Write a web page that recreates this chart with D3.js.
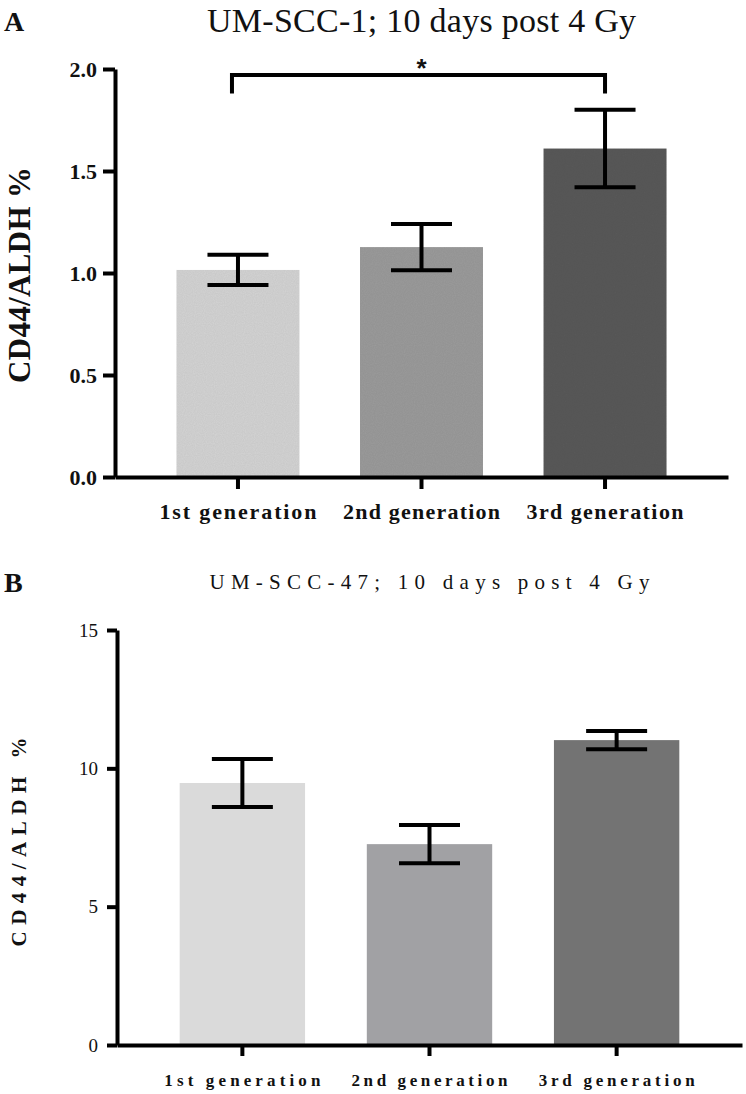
<!DOCTYPE html>
<html>
<head>
<meta charset="utf-8">
<script src="https://cdn.jsdelivr.net/npm/d3@7"></script>
<style>
  body { margin: 0; background: #fff; }
  svg { display: block; }
  text { font-family: "Liberation Serif", "DejaVu Serif", serif; fill: #111; }
</style>
</head>
<body>
<svg id="chart" width="746" height="1094"></svg>
<script>
// data
const categories = ["1st generation", "2nd generation", "3rd generation"];

const meansA = [1.015, 1.127, 1.61];
const errorsA = [0.074, 0.113, 0.19];
const ticksA = [0.0, 0.5, 1.0, 1.5, 2.0];
const coloursA = ["#d4d4d4", "#9b9b9b", "#5a5a5a"];

const meansB = [9.47, 7.26, 11.02];
const errorsB = [0.87, 0.69, 0.33];
const ticksB = [0, 5, 10, 15];
const coloursB = ["#dadada", "#a1a1a4", "#737373"];

// significance bracket in panel A: 1st vs 3rd generation
const bracketA = { from: 0, to: 2, level: 1.97, leg: 1.88, label: "*" };

const svg = d3.select("#chart");

function drawPanel(opts) {
    const g = svg.append("g");

    const x = d3.scaleBand()
        .domain(categories)
        .range(opts.xRange)
        .paddingInner(0.33)
        .paddingOuter(0.335);

    const y = d3.scaleLinear()
        .domain([0, d3.max(opts.ticks)])
        .range(opts.yRange);

    // bars
    g.selectAll(".bar")
        .data(opts.means)
        .enter()
        .append("rect")
        .attr("class", "bar")
        .attr("x", (d, i) => x(categories[i]))
        .attr("y", d => y(d))
        .attr("width", x.bandwidth())
        .attr("height", d => y(0) - y(d))
        .attr("fill", (d, i) => opts.colours[i])
        .attr("filter", opts.grain ? "url(#grain)" : null);

    // error bars
    const capW = 61;
    const err = g.selectAll(".err")
        .data(opts.means.map((m, i) => ({ m, e: opts.errors[i], c: categories[i] })))
        .enter()
        .append("g")
        .attr("class", "err")
        .attr("stroke", "#000")
        .attr("stroke-width", 4);
    err.append("line")
        .attr("x1", d => x(d.c) + x.bandwidth() / 2)
        .attr("x2", d => x(d.c) + x.bandwidth() / 2)
        .attr("y1", d => y(d.m + d.e))
        .attr("y2", d => y(d.m - d.e));
    err.append("line")
        .attr("x1", d => x(d.c) + x.bandwidth() / 2 - capW / 2)
        .attr("x2", d => x(d.c) + x.bandwidth() / 2 + capW / 2)
        .attr("y1", d => y(d.m + d.e))
        .attr("y2", d => y(d.m + d.e));
    err.append("line")
        .attr("x1", d => x(d.c) + x.bandwidth() / 2 - capW / 2)
        .attr("x2", d => x(d.c) + x.bandwidth() / 2 + capW / 2)
        .attr("y1", d => y(d.m - d.e))
        .attr("y2", d => y(d.m - d.e));

    // y axis
    const yAxis = g.append("g")
        .attr("transform", `translate(${opts.xRange[0]},0)`)
        .call(d3.axisLeft(y)
            .tickValues(opts.ticks)
            .tickFormat(opts.tickFormat)
            .tickSize(opts.yTickSize)
            .tickSizeOuter(0)
            .tickPadding(opts.yTickPad));

    // x axis
    const xAxis = g.append("g")
        .attr("transform", `translate(0,${opts.yRange[0]})`)
        .call(d3.axisBottom(x)
            .tickSize(opts.xTickSize)
            .tickSizeOuter(0)
            .tickPadding(opts.xTickPad));

    [yAxis, xAxis].forEach(a => {
        a.select(".domain").attr("stroke", "#000").attr("stroke-width", 4);
        a.selectAll(".tick line").attr("stroke", "#000").attr("stroke-width", 4);
    });
    yAxis.selectAll(".tick text")
        .attr("fill", "#111")
        .style("font-family", "Liberation Serif")
        .style("font-size", opts.yTickFont + "px")
        .style("font-weight", opts.yTickWeight);
    xAxis.selectAll(".tick text")
        .attr("fill", "#111")
        .style("font-family", "Liberation Serif")
        .style("font-size", opts.xTickFont + "px")
        .style("font-weight", opts.xTickWeight)
        .attr("textLength", opts.xLabelLen)
        .attr("lengthAdjust", "spacing");

    // y title
    g.append("text")
        .attr("transform", `translate(${opts.yTitleX},${opts.yTitleY}) rotate(-90)`)
        .attr("text-anchor", "middle")
        .attr("textLength", opts.yTitleLen)
        .attr("lengthAdjust", "spacing")
        .style("font-size", opts.yTitleFont + "px")
        .style("font-weight", "bold")
        .text("CD44/ALDH %");

    // chart title
    const cx = (opts.xRange[0] + opts.xRange[1]) / 2;
    g.append("text")
        .attr("x", cx)
        .attr("y", opts.titleY)
        .attr("text-anchor", "middle")
        .attr("textLength", opts.titleLen)
        .attr("lengthAdjust", "spacing")
        .style("font-size", opts.titleFont + "px")
        .style("font-weight", opts.titleWeight)
        .text(opts.title);

    // panel letter
    g.append("text")
        .attr("x", 4)
        .attr("y", opts.letterY)
        .style("font-size", "28px")
        .style("font-weight", "bold")
        .text(opts.letter);

    return { g, x, y };
}

// light grain like the scanned bars of panel A
const defs = svg.append("defs");
const grain = defs.append("filter").attr("id", "grain").attr("x", 0).attr("y", 0).attr("width", 1).attr("height", 1);
grain.append("feTurbulence").attr("type", "fractalNoise").attr("baseFrequency", 0.9).attr("numOctaves", 1).attr("result", "noise");
grain.append("feColorMatrix").attr("in", "noise").attr("type", "matrix")
    .attr("values", "0 0 0 0 0  0 0 0 0 0  0 0 0 0 0  0 0 0 0.14 0").attr("result", "dots");
grain.append("feComposite").attr("in", "dots").attr("in2", "SourceGraphic").attr("operator", "in").attr("result", "dotsIn");
grain.append("feMerge").selectAll("feMergeNode").data(["SourceGraphic", "dotsIn"]).enter()
    .append("feMergeNode").attr("in", d => d);

const panelA = drawPanel({
    letter: "A", letterY: 31,
    title: "UM-SCC-1; 10 days post 4 Gy", titleY: 32, titleLen: 429, titleFont: 34, titleWeight: "normal",
    means: meansA, errors: errorsA, ticks: ticksA, colours: coloursA, grain: true,
    xRange: [115, 728], yRange: [477, 69],
    tickFormat: d3.format(".1f"), yTickSize: 12, yTickPad: 6, yTickFont: 22, yTickWeight: "bold",
    xTickSize: 12, xTickPad: 14, xTickFont: 22, xTickWeight: "bold", xLabelLen: 157,
    yTitleX: 30, yTitleY: 275, yTitleLen: 216, yTitleFont: 31
});

drawPanel({
    letter: "B", letterY: 592,
    title: "UM-SCC-47; 10 days post 4 Gy", titleY: 589, titleLen: 440, titleFont: 21, titleWeight: "normal",
    means: meansB, errors: errorsB, ticks: ticksB, colours: coloursB, grain: false,
    xRange: [117, 742], yRange: [1045, 630],
    tickFormat: d3.format("d"), yTickSize: 10, yTickPad: 9, yTickFont: 19, yTickWeight: "normal",
    xTickSize: 11, xTickPad: 18, xTickFont: 17, xTickWeight: "bold", xLabelLen: 156,
    yTitleX: 26, yTitleY: 842, yTitleLen: 209, yTitleFont: 21
});

// significance bracket
const bx1 = panelA.x(categories[bracketA.from]) + panelA.x.bandwidth() / 2 - 6;
const bx2 = panelA.x(categories[bracketA.to]) + panelA.x.bandwidth() / 2;
panelA.g.append("path")
    .attr("d", `M${bx1},${panelA.y(bracketA.leg)}V${panelA.y(bracketA.level)}H${bx2}V${panelA.y(bracketA.leg)}`)
    .attr("fill", "none")
    .attr("stroke", "#000")
    .attr("stroke-width", 4);
panelA.g.append("text")
    .attr("x", (bx1 + bx2) / 2 + 3)
    .attr("y", panelA.y(bracketA.level) + 2)
    .attr("text-anchor", "middle")
    .style("font-family", "Liberation Sans")
    .style("font-size", "26px")
    .style("font-weight", "bold")
    .text(bracketA.label);
</script>
</body>
</html>
